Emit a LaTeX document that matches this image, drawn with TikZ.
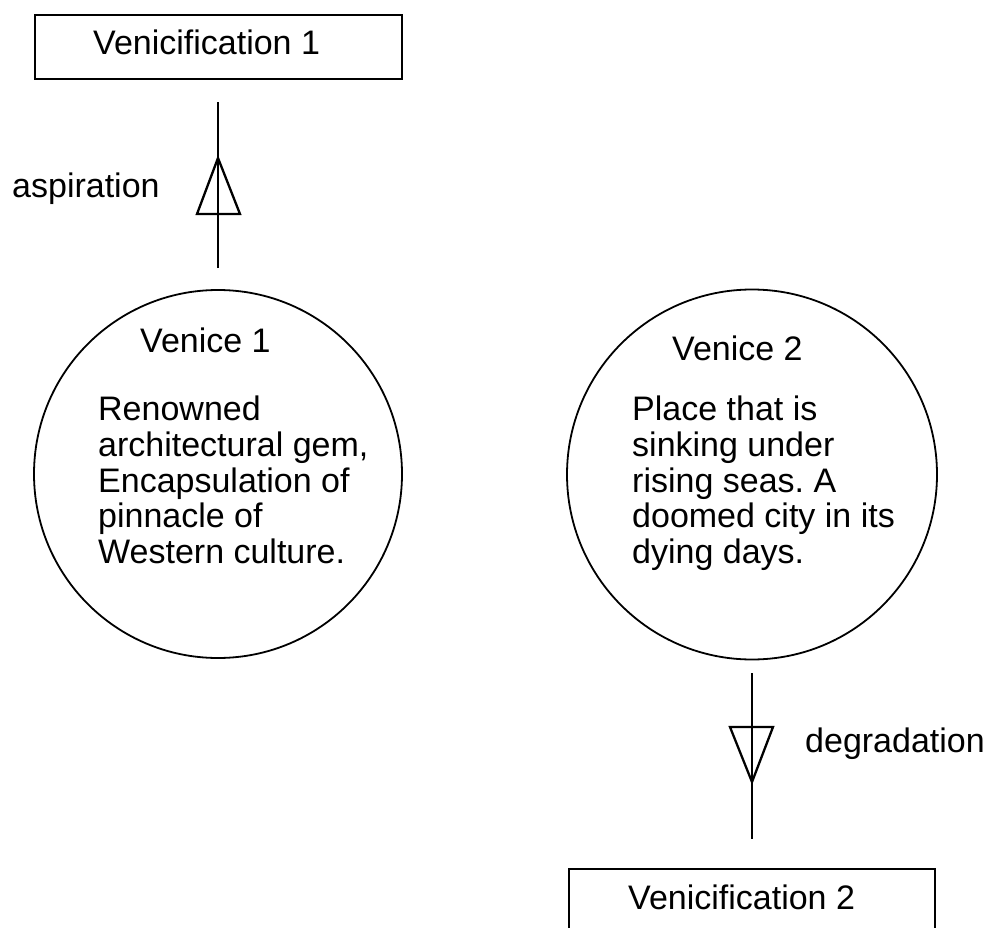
\documentclass[tikz,border=0pt]{standalone}
\usepackage{fontspec}
\setmainfont{Liberation Sans}
\frenchspacing
\begin{document}
\begin{tikzpicture}[x=1pt,y=-1pt,
  txt/.style={font=\fontsize{34}{35.7}\selectfont, inner sep=0pt, text=black},
  boxshape/.style={draw, line width=2.6pt, rectangle, inner sep=0pt},
  bubble/.style={draw, line width=1.8pt, circle, inner sep=0pt, minimum size=#1},
  link/.style={line width=1.9pt},
  tri/.style={line width=2.3pt, line join=miter}]
\useasboundingbox (0,0) rectangle (990,928);

% states of the city
\node[boxshape, minimum width=367pt, minimum height=64pt] (vf1) at (218.5,47) {};
\node[txt, anchor=base west] (vf1t) at (93,55) {Venicification 1};

\node[bubble=368pt] (v1) at (218,474) {};
\node[txt, anchor=base west] (v1t) at (140,352) {Venice 1};
\node[txt, anchor=north west, align=left] (v1b) at (98,396)
  {Renowned\\architectural gem,\\Encapsulation of\\pinnacle of\\Western culture.};

\node[bubble=370pt] (v2) at (752,474.5) {};
\node[txt, anchor=base west] (v2t) at (672,360) {Venice 2};
\node[txt, anchor=north west, align=left] (v2b) at (632,396)
  {Place that is\\sinking under\\rising seas. A\\doomed city in its\\dying days.};

\node[boxshape, minimum width=366pt, minimum height=64pt] (vf2) at (752,901) {};
\node[txt, anchor=base west] (vf2t) at (628,909) {Venicification 2};

% aspiration: Venice 1 up to Venicification 1
\coordinate (a1) at (218,102);
\coordinate (a2) at (218,268);
\draw[link] (a2) -- (a1);
\draw[tri] (218,158) -- (240,214) -- (197,214) -- cycle;
\node[txt, anchor=base west] (asp) at (12,197) {aspiration};

% degradation: Venice 2 down to Venicification 2
\coordinate (d1) at (752,673);
\coordinate (d2) at (752,839);
\draw[link] (d1) -- (d2);
\draw[tri] (730,727) -- (773,727) -- (752,782) -- cycle;
\node[txt, anchor=base west] (deg) at (805,752) {degradation};
\end{tikzpicture}
\end{document}
